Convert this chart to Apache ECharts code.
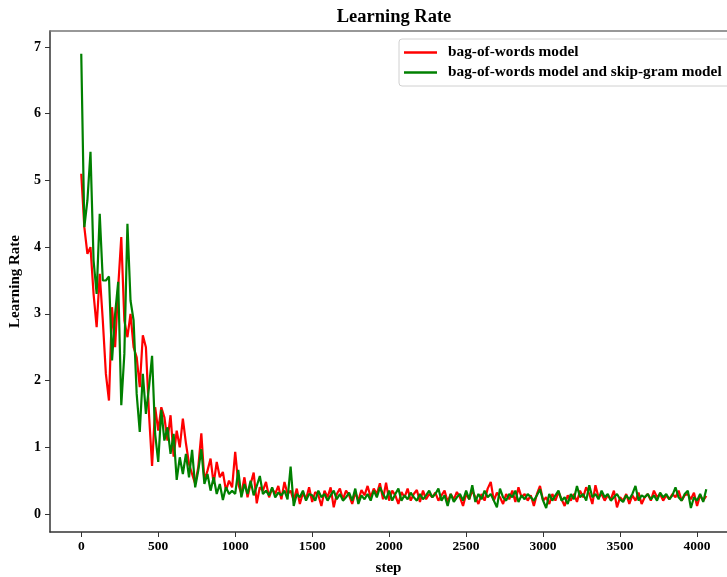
<!DOCTYPE html>
<html>
<head>
<meta charset="utf-8">
<script src="https://cdn.jsdelivr.net/npm/echarts@6/dist/echarts.min.js"></script>
<style>
  html, body { margin: 0; padding: 0; background: #fff; }
  #chart { width: 727px; height: 577px; }
</style>
</head>
<body>
<div id="chart"></div>
<script>
// step spacing between logged points
var stepSize = 20;
var xTicks = [0, 500, 1000, 1500, 2000, 2500, 3000, 3500, 4000];
var yTicks = [0, 1, 2, 3, 4, 5, 6, 7];

// bag-of-words model, steps 0..1000
var bowHead = [5.1, 4.3, 3.9, 4.0, 3.3, 2.8, 3.6, 2.9, 2.1, 1.7,
  3.1, 2.5, 3.4, 4.15, 2.9, 2.65, 3.0, 2.5, 2.35, 1.9,
  2.68, 2.5, 1.5, 0.72, 1.6, 1.25, 1.6, 1.45, 1.1, 1.48,
  0.86, 1.25, 1.0, 1.43, 1.06, 0.75, 0.6, 0.45, 0.7, 1.21,
  0.5, 0.65, 0.83, 0.45, 0.78, 0.55, 0.63, 0.35, 0.5, 0.4,
  0.93];
// bag-of-words model, steps 1020..4060
var bowTail = [0.45, 0.3, 0.55, 0.25, 0.45, 0.62, 0.16, 0.4, 0.35, 0.48,
  0.25, 0.38, 0.3, 0.42, 0.22, 0.48, 0.3, 0.35, 0.2, 0.38,
  0.15, 0.32, 0.22, 0.4, 0.18, 0.33, 0.28, 0.12, 0.35, 0.25,
  0.4, 0.1, 0.3, 0.38, 0.22, 0.35, 0.28, 0.15, 0.32, 0.2,
  0.36, 0.28, 0.42, 0.25, 0.38, 0.3, 0.46, 0.22, 0.47, 0.2,
  0.35, 0.28, 0.15, 0.33, 0.25, 0.38, 0.2, 0.3, 0.36, 0.18,
  0.35, 0.22, 0.3, 0.25, 0.32, 0.2, 0.28, 0.35, 0.18, 0.3,
  0.22, 0.33, 0.25, 0.12, 0.3, 0.22, 0.35, 0.25, 0.15, 0.3,
  0.2, 0.38, 0.48, 0.2, 0.32, 0.25, 0.15, 0.3, 0.22, 0.35,
  0.18, 0.4, 0.25, 0.3, 0.2, 0.28, 0.12, 0.3, 0.42, 0.2,
  0.25, 0.15, 0.3, 0.2, 0.33, 0.22, 0.12, 0.28, 0.2, 0.3,
  0.18, 0.35, 0.25, 0.4, 0.3, 0.15, 0.43, 0.25, 0.3, 0.2,
  0.28, 0.22, 0.35, 0.1, 0.25, 0.2, 0.3, 0.15, 0.28, 0.2,
  0.32, 0.15, 0.25, 0.3, 0.2, 0.35, 0.25, 0.3, 0.2, 0.28,
  0.22, 0.3, 0.25, 0.35, 0.2, 0.28, 0.3, 0.22, 0.32, 0.12,
  0.28, 0.2, 0.27];

// bag-of-words + skip-gram model, steps 0..1000
var bsgHead = [6.9, 4.3, 4.7, 5.43, 3.8, 3.3, 4.5, 3.5, 3.5, 3.56,
  2.3, 3.0, 3.48, 1.63, 2.4, 4.35, 3.2, 2.9, 1.8, 1.23,
  2.1, 1.5, 1.9, 2.37, 1.2, 0.78, 1.56, 1.1, 1.3, 0.9,
  1.2, 0.51, 0.85, 0.6, 0.9, 0.55, 0.96, 0.4, 0.65, 0.97,
  0.45, 0.6, 0.35, 0.55, 0.3, 0.45, 0.21, 0.4, 0.3, 0.35,
  0.3];
// bag-of-words + skip-gram model, steps 1020..4060
var bsgTail = [0.66, 0.25, 0.45, 0.3, 0.5, 0.28, 0.42, 0.57, 0.3, 0.35,
  0.28, 0.4, 0.25, 0.32, 0.28, 0.35, 0.22, 0.71, 0.12, 0.3,
  0.25, 0.35, 0.2, 0.3, 0.28, 0.2, 0.35, 0.25, 0.3, 0.2,
  0.28, 0.35, 0.22, 0.3, 0.2, 0.25, 0.32, 0.2, 0.38, 0.15,
  0.28, 0.22, 0.3, 0.2, 0.35, 0.25, 0.4, 0.3, 0.22, 0.35,
  0.2, 0.3, 0.38, 0.2, 0.28, 0.22, 0.32, 0.25, 0.2, 0.3,
  0.22, 0.28, 0.35, 0.25, 0.3, 0.38, 0.2, 0.28, 0.12, 0.3,
  0.18, 0.25, 0.3, 0.2, 0.35, 0.22, 0.43, 0.18, 0.3, 0.22,
  0.35, 0.25, 0.3, 0.2, 0.1, 0.38, 0.25, 0.2, 0.3, 0.25,
  0.35, 0.18, 0.28, 0.22, 0.3, 0.25, 0.2, 0.28, 0.37, 0.2,
  0.09, 0.3, 0.2, 0.28, 0.35, 0.2, 0.25, 0.15, 0.3, 0.22,
  0.42, 0.25, 0.3, 0.2, 0.43, 0.25, 0.3, 0.22, 0.35, 0.25,
  0.3, 0.2, 0.25, 0.3, 0.22, 0.18, 0.28, 0.22, 0.3, 0.42,
  0.2, 0.28, 0.25, 0.3, 0.22, 0.28, 0.2, 0.32, 0.25, 0.3,
  0.22, 0.28, 0.4, 0.25, 0.2, 0.3, 0.35, 0.09, 0.25, 0.2,
  0.3, 0.18, 0.37];

function toPoints(vals) {
  return vals.map(function (v, i) { return [i * stepSize, v]; });
}

var font = "Liberation Serif";
var labelStyle = { fontFamily: font, fontWeight: "bold", color: "#000" };
var chart = echarts.init(document.getElementById("chart"));
chart.setOption({
  animation: false,
  title: {
    text: "Learning Rate",
    left: 389,
    top: 3,
    textAlign: "center",
    textStyle: { fontFamily: font, fontWeight: "bold", fontSize: 18.5, color: "#000" }
  },
  legend: {
    orient: "vertical",
    left: 399,
    top: 39,
    padding: [6, 10, 6, 5],
    icon: "rect",
    itemWidth: 33,
    itemHeight: 2.5,
    itemGap: 5,
    borderColor: "#d0d0d0",
    borderWidth: 1,
    borderRadius: 3,
    textStyle: { fontFamily: font, fontWeight: "bold", fontSize: 15.3, color: "#000", padding: [0, 0, 0, 6] },
    data: ["bag-of-words model", "bag-of-words model and skip-gram model"]
  },
  grid: { left: 50, top: 31, right: 0, bottom: 45, outerBoundsMode: "none" },
  xAxis: [
    {
      type: "value",
      min: -203,
      max: 4194.6,
      name: "step",
      nameLocation: "middle",
      nameGap: 29,
      nameTextStyle: Object.assign({ fontSize: 15 }, labelStyle),
      splitLine: { show: false },
      axisLine: { onZero: false, lineStyle: { color: "#333", width: 1.5 } },
      axisTick: { customValues: xTicks, length: 5, lineStyle: { color: "#333" } },
      axisLabel: Object.assign({
        customValues: xTicks, margin: 8, fontSize: 13.5,
        formatter: function (v) { return String(v); }
      }, labelStyle)
    },
    {
      // top frame line
      type: "value",
      position: "top",
      min: -203,
      max: 4194.6,
      splitLine: { show: false },
      axisLine: { show: true, onZero: false, lineStyle: { color: "#777", width: 1.5 } },
      axisTick: { show: false },
      axisLabel: { show: false }
    }
  ],
  yAxis: {
    type: "value",
    min: -0.27,
    max: 7.24,
    name: "Learning Rate",
    nameLocation: "middle",
    nameGap: 21,
    nameRotate: 90,
    nameTextStyle: Object.assign({ fontSize: 15 }, labelStyle),
    splitLine: { show: false },
    axisLine: { show: true, onZero: false, lineStyle: { color: "#333", width: 1.5 } },
    axisTick: { show: true, customValues: yTicks, length: 5, lineStyle: { color: "#333" } },
    axisLabel: Object.assign({ customValues: yTicks, margin: 9, fontSize: 14 }, labelStyle)
  },
  series: [
    {
      name: "bag-of-words model",
      type: "line",
      symbol: "none",
      color: "#ff0000",
      lineStyle: { width: 2.2 },
      data: toPoints(bowHead.concat(bowTail))
    },
    {
      name: "bag-of-words model and skip-gram model",
      type: "line",
      symbol: "none",
      color: "#008000",
      lineStyle: { width: 2.2 },
      data: toPoints(bsgHead.concat(bsgTail))
    }
  ]
});
</script>
</body>
</html>
